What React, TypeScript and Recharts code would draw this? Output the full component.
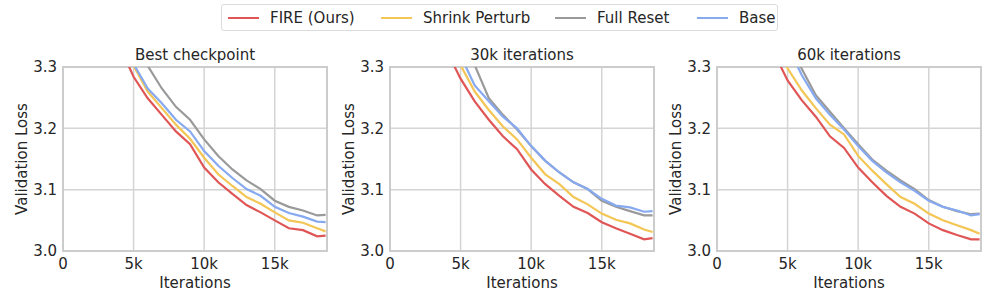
import { LineChart, Line, XAxis, YAxis, CartesianGrid, ReferenceArea } from "recharts";

// iterations shared by every series
const iterations = [4000, 5000, 6000, 7000, 8000, 9000, 10000, 11000, 12000, 13000, 14000, 15000, 16000, 17000, 18000, 18600];

const panelTitles = ["Best checkpoint", "30k iterations", "60k iterations"];
const seriesNames = ["FIRE (Ours)", "Shrink Perturb", "Full Reset", "Base"];
const seriesColors = ["#e05656", "#f3c655", "#9a9a9a", "#86a9f0"];
const xTicks = [0, 5000, 10000, 15000];
const yTicks = [3.0, 3.1, 3.2, 3.3];

// Best checkpoint
const bestFire = [3.335, 3.284, 3.249, 3.222, 3.195, 3.174, 3.136, 3.112, 3.093, 3.075, 3.063, 3.05, 3.037, 3.034, 3.024, 3.025];
const bestShrink = [3.36, 3.302, 3.26, 3.233, 3.206, 3.183, 3.152, 3.125, 3.106, 3.088, 3.077, 3.063, 3.05, 3.046, 3.037, 3.032];
const bestReset = [3.4, 3.345, 3.302, 3.265, 3.235, 3.214, 3.182, 3.155, 3.133, 3.115, 3.101, 3.082, 3.072, 3.066, 3.058, 3.059];
const bestBase = [3.36, 3.305, 3.265, 3.241, 3.214, 3.195, 3.163, 3.139, 3.119, 3.101, 3.09, 3.072, 3.062, 3.056, 3.048, 3.047];

// 30k iterations
const k30Fire = [3.327, 3.281, 3.244, 3.214, 3.187, 3.166, 3.133, 3.109, 3.09, 3.072, 3.062, 3.047, 3.037, 3.028, 3.019, 3.021];
const k30Shrink = [3.36, 3.303, 3.26, 3.23, 3.203, 3.182, 3.152, 3.125, 3.109, 3.088, 3.076, 3.061, 3.051, 3.045, 3.035, 3.031];
const k30Reset = [3.41, 3.35, 3.303, 3.249, 3.222, 3.198, 3.171, 3.147, 3.128, 3.112, 3.101, 3.082, 3.072, 3.065, 3.058, 3.058];
const k30Base = [3.38, 3.318, 3.27, 3.244, 3.219, 3.2, 3.171, 3.147, 3.128, 3.112, 3.101, 3.085, 3.074, 3.071, 3.064, 3.065];

// 60k iterations
const k60Fire = [3.325, 3.278, 3.246, 3.219, 3.187, 3.168, 3.136, 3.112, 3.09, 3.072, 3.061, 3.045, 3.034, 3.026, 3.019, 3.019];
const k60Shrink = [3.35, 3.298, 3.262, 3.233, 3.206, 3.19, 3.155, 3.131, 3.109, 3.088, 3.077, 3.061, 3.05, 3.042, 3.034, 3.028];
const k60Reset = [3.42, 3.35, 3.297, 3.254, 3.227, 3.2, 3.174, 3.149, 3.131, 3.115, 3.101, 3.083, 3.072, 3.065, 3.06, 3.061];
const k60Base = [3.4, 3.335, 3.287, 3.249, 3.222, 3.198, 3.171, 3.147, 3.128, 3.112, 3.098, 3.082, 3.072, 3.066, 3.058, 3.06];

const panels = [
  [bestFire, bestShrink, bestReset, bestBase],
  [k30Fire, k30Shrink, k30Reset, k30Base],
  [k60Fire, k60Shrink, k60Reset, k60Base],
];

const FONT = "'DejaVu Sans', sans-serif";
const TEXT = "#262626";
const GRID = "#d4d4d4";
const X_MAX = 18700;

const toRows = (series: number[][]) =>
  iterations.map((it, i) => {
    const row: Record<string, number> = { it };
    series.forEach((s, j) => (row["s" + j] = s[i]));
    return row;
  });

function Panel({ idx }: { idx: number }) {
  const data = toRows(panels[idx]);
  return (
    <div style={{ position: "absolute", left: idx * 327, top: 0 }}>
      <div
        style={{
          position: "absolute",
          left: 63,
          width: 264,
          top: 45,
          textAlign: "center",
          fontFamily: FONT,
          fontSize: 15,
          color: TEXT,
          lineHeight: "20px",
        }}
      >
        {panelTitles[idx]}
      </div>
      <LineChart width={330} height={297} data={data} margin={{ top: 67, right: 3, bottom: 0, left: 0 }}>
        <CartesianGrid stroke={GRID} strokeWidth={1.5} horizontalValues={yTicks} verticalValues={xTicks} />
        <XAxis
          dataKey="it"
          type="number"
          domain={[0, X_MAX]}
          allowDataOverflow
          ticks={xTicks}
          tickFormatter={(v) => (v === 0 ? "0" : `${v / 1000}k`)}
          tickLine={false}
          axisLine={false}
          tickSize={6}
          tickMargin={1}
          tick={{ fill: TEXT, fontSize: 15, fontFamily: FONT }}
          height={46}
          label={({ viewBox }: any) => (
            <text
              x={viewBox.x + viewBox.width / 2}
              y={viewBox.y + 37}
              textAnchor="middle"
              fill={TEXT}
              fontSize={15}
              fontFamily={FONT}
            >
              Iterations
            </text>
          )}
        />
        <YAxis
          type="number"
          domain={[3.0, 3.3]}
          allowDataOverflow
          ticks={yTicks}
          tickFormatter={(v) => v.toFixed(1)}
          tickLine={false}
          axisLine={false}
          tickSize={6}
          tickMargin={0}
          width={63}
          tick={{ fill: TEXT, fontSize: 15, fontFamily: FONT }}
          label={({ viewBox }: any) => {
            const cx = viewBox.x + 22;
            const cy = viewBox.y + viewBox.height / 2;
            return (
              <text
                x={cx}
                y={cy}
                transform={`rotate(-90 ${cx} ${cy})`}
                textAnchor="middle"
                dominantBaseline="central"
                fill={TEXT}
                fontSize={15}
                fontFamily={FONT}
              >
                Validation Loss
              </text>
            );
          }}
        />
        {seriesNames.map((name, j) => (
          <Line
            key={name}
            type="linear"
            dataKey={"s" + j}
            name={name}
            stroke={seriesColors[j]}
            strokeWidth={2.2}
            dot={false}
            isAnimationActive={false}
          />
        ))}
        <ReferenceArea
          x1={0}
          x2={X_MAX}
          y1={3.0}
          y2={3.3}
          fill="none"
          stroke="#cccccc"
          strokeWidth={2}
          ifOverflow="visible"
        />
      </LineChart>
    </div>
  );
}

const legendLeft = [6, 159, 333, 475];

function Legend() {
  return (
    <div
      style={{
        position: "absolute",
        left: 221,
        top: 4,
        width: 557,
        height: 27,
        border: "1px solid #dcdcdc",
        borderRadius: 3,
        boxSizing: "border-box",
        fontFamily: FONT,
        fontSize: 15,
        color: TEXT,
      }}
    >
      {seriesNames.map((name, j) => (
        <div key={name} style={{ position: "absolute", left: legendLeft[j], top: 2, height: 22, display: "flex", alignItems: "center" }}>
          <div style={{ width: 31, height: 2, background: seriesColors[j], marginRight: 11 }} />
          <span style={{ whiteSpace: "nowrap" }}>{name}</span>
        </div>
      ))}
    </div>
  );
}

export default function App() {
  return (
    <div style={{ position: "absolute", left: 0, top: 0, width: 996, height: 297, background: "#fff", overflow: "hidden" }}>
      <Legend />
      {[0, 1, 2].map((i) => (
        <Panel key={i} idx={i} />
      ))}
    </div>
  );
}
